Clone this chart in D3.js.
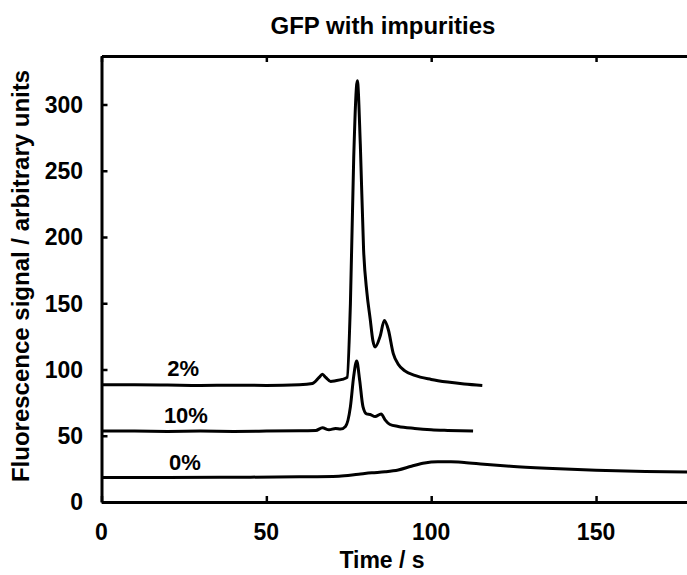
<!DOCTYPE html>
<html>
<head>
  <title>GFP with impurities</title>
  <script src="https://d3js.org/d3.v7.min.js"></script>
  <style>
    body { margin: 0; background: #fff; }
    text { font-family: "Liberation Sans", Arial, sans-serif; font-weight: bold; fill: #000; }
  </style>
</head>
<body>
  <div id="chart"></div>

  <script>
    // traces (time in s, signal in arbitrary units)
    const t2 = [0, 10, 20, 30, 40, 50, 60, 64, 66, 67, 68, 69.5, 71, 73, 74.5, 75.5, 76.5, 77.6, 78.5, 79.5, 80.5, 81.5, 82.3, 83, 84.5, 85.8, 87, 88.5, 90, 92, 95, 100, 105, 110, 115.5];
    const v2 = [88.5, 88.5, 88.3, 88, 88.2, 88, 88.5, 89.5, 94, 96.5, 94, 91, 91.5, 92.5, 94, 150, 260, 318, 270, 190, 158, 138, 122, 117, 125, 137, 130, 112, 104, 99, 95.5, 92.5, 90.5, 89, 88];

    const t10 = [0, 10, 20, 30, 40, 50, 60, 65, 67, 69, 71, 72.5, 74, 75.5, 76.5, 77.4, 78.3, 79.3, 80.4, 81.5, 83, 84.8, 86, 87.5, 90, 95, 100, 105, 112.7];
    const v10 = [53.5, 53.5, 53.3, 53.5, 53.3, 53.5, 53.8, 54, 56, 54.5, 55.5, 55, 57, 72, 95, 106.5, 92, 72, 66.5, 66, 64.5, 66.5, 62, 58.5, 57, 55.5, 54.5, 54, 53.5];

    const t0 = [0, 20, 40, 60, 72, 78, 82, 86, 90, 94, 98, 102, 106, 110, 116, 124, 135, 150, 165, 180];
    const v0 = [18.5, 18.5, 18.7, 19, 19.5, 21, 22, 22.8, 24.2, 27, 29.5, 30.3, 30.3, 29.8, 28.5, 27, 25.5, 24, 23, 22.5];

    const seriesNames = ["2%", "10%", "0%"];
    const labelAt = [[24.8, 95], [25.6, 59.6], [25.3, 24]];

    const xTicks = [0, 50, 100, 150];
    const yTicks = [0, 50, 100, 150, 200, 250, 300];

    const width = 687, height = 575;
    const plotLeft = 101.5, plotTop = 56, plotBottom = 502;

    const svg = d3.select("#chart").append("svg")
      .attr("width", width)
      .attr("height", height);

    const x = d3.scaleLinear().domain([0, 180]).range([plotLeft, plotLeft + 180 * 3.297]);
    const y = d3.scaleLinear().domain([0, 336.6]).range([plotBottom, plotTop]);

    svg.append("clipPath").attr("id", "plot")
      .append("rect")
      .attr("x", plotLeft).attr("y", plotTop)
      .attr("width", width - plotLeft).attr("height", plotBottom - plotTop);

    const series = [
      {t: t2, v: v2},
      {t: t10, v: v10},
      {t: t0, v: v0}
    ];

    const line = d3.line()
      .x(d => x(d[0]))
      .y(d => y(d[1]))
      .curve(d3.curveMonotoneX);

    svg.append("g").attr("clip-path", "url(#plot)")
      .selectAll("path")
      .data(series)
      .join("path")
      .attr("d", s => line(s.t.map((tt, i) => [tt, s.v[i]])))
      .attr("fill", "none")
      .attr("stroke", "#000")
      .attr("stroke-width", 3)
      .attr("stroke-linejoin", "round");

    // axes, ticks pointing inward
    const xAxis = svg.append("g").attr("transform", `translate(0,${plotBottom})`)
      .call(d3.axisBottom(x).tickValues(xTicks).tickSizeInner(-6).tickSizeOuter(0).tickFormat(""));
    const xTop = svg.append("g").attr("transform", `translate(0,${plotTop})`)
      .call(d3.axisTop(x).tickValues(xTicks).tickSizeInner(-6).tickSizeOuter(0).tickFormat(""));
    const yAxis = svg.append("g").attr("transform", `translate(${plotLeft},0)`)
      .call(d3.axisLeft(y).tickValues(yTicks).tickSizeInner(-6).tickSizeOuter(0).tickFormat(""));

    [xAxis, xTop, yAxis].forEach(g => {
      g.select(".domain").attr("stroke", "#000").attr("stroke-width", 3);
      g.selectAll(".tick line").attr("stroke", "#000").attr("stroke-width", 2.5);
    });

    svg.append("g").selectAll("text")
      .data(xTicks)
      .join("text")
      .attr("x", d => x(d))
      .attr("y", 540)
      .attr("text-anchor", "middle")
      .style("font-size", "23px")
      .text(d => d);

    svg.append("g").selectAll("text")
      .data(yTicks)
      .join("text")
      .attr("x", 83)
      .attr("y", d => y(d))
      .attr("dy", "0.36em")
      .attr("text-anchor", "end")
      .style("font-size", "23px")
      .text(d => d);

    svg.append("g").selectAll("text")
      .data(seriesNames)
      .join("text")
      .attr("x", (d, i) => x(labelAt[i][0]))
      .attr("y", (d, i) => y(labelAt[i][1]))
      .attr("text-anchor", "middle")
      .style("font-size", "22px")
      .text(d => d);

    svg.append("text")
      .attr("x", 383)
      .attr("y", 34)
      .attr("text-anchor", "middle")
      .style("font-size", "24px")
      .text("GFP with impurities");

    svg.append("text")
      .attr("x", 382)
      .attr("y", 568)
      .attr("text-anchor", "middle")
      .style("font-size", "23px")
      .text("Time / s");

    svg.append("text")
      .attr("transform", "translate(29,276) rotate(-90)")
      .attr("text-anchor", "middle")
      .style("font-size", "24px")
      .text("Fluorescence signal / arbitrary units");
  </script>
</body>
</html>
